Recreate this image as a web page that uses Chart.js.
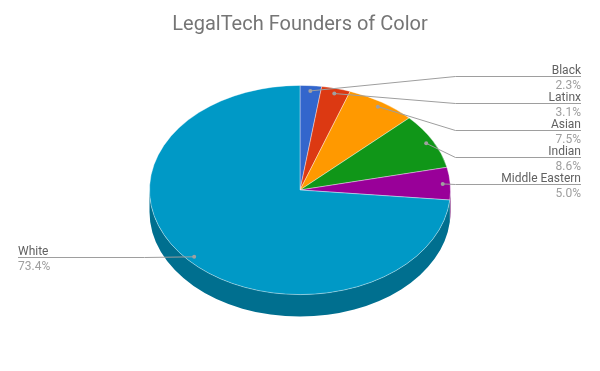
<!DOCTYPE html>
<html>
<head>
<meta charset="utf-8">
<script src="https://cdn.jsdelivr.net/npm/chart.js@4"></script>
<style>
  body { margin: 0; background: #fff; }
  #wrap { width: 600px; height: 371px; position: relative; }
</style>
</head>
<body>
<div id="wrap"><canvas id="grafico"></canvas></div>
<script>
const categorias = ['Black', 'Latinx', 'Asian', 'Indian', 'Middle Eastern', 'White'];
const percentuais = [2.3, 3.1, 7.5, 8.6, 5.0, 73.4];
const rotulosPct = ['2.3%', '3.1%', '7.5%', '8.6%', '5.0%', '73.4%'];

const coresTopo = ['#3366cc', '#dc3912', '#ff9900', '#109618', '#990099', '#0099c6'];
const coresLado = ['#244a94', '#9e280c', '#b86e00', '#0b6b11', '#6b006b', '#006f8f'];

const INCLINACAO = 0.695;   // ellipse squash of the top face
const PROFUNDIDADE = 22;    // thickness of the 3d side

function geometria(chart) {
  const arcos = chart.getDatasetMeta(0).data;
  const p = arcos[0].getProps(['x', 'y', 'outerRadius'], true);
  return { arcos, cx: p.x, cy: p.y, r: p.outerRadius };
}

const pizza3d = {
  id: 'pizza3d',
  beforeDatasetsDraw(chart) {
    const ctx = chart.ctx;
    const { arcos, cx, cy, r } = geometria(chart);
    const ry = r * INCLINACAO;
    // side walls, only the front half is visible
    arcos.forEach((arco, i) => {
      const { startAngle, endAngle } = arco.getProps(['startAngle', 'endAngle'], true);
      const a0 = Math.max(startAngle, 0), a1 = Math.min(endAngle, Math.PI);
      if (a1 <= a0) return;
      ctx.save();
      ctx.beginPath();
      ctx.ellipse(cx, cy, r, ry, 0, a0, a1);
      ctx.ellipse(cx, cy + PROFUNDIDADE, r, ry, 0, a1, a0, true);
      ctx.closePath();
      ctx.fillStyle = coresLado[i];
      ctx.fill();
      ctx.restore();
    });
    // squash the top face drawn by the library
    ctx.save();
    ctx.translate(cx, cy);
    ctx.scale(1, INCLINACAO);
    ctx.translate(-cx, -cy);
  },
  afterDatasetsDraw(chart) {
    chart.ctx.restore();
  },
  afterDraw(chart) {
    const ctx = chart.ctx;
    const { arcos, cx, cy, r } = geometria(chart);
    const ry = r * INCLINACAO;
    const pontos = arcos.map((arco, i) => {
      const { startAngle, endAngle } = arco.getProps(['startAngle', 'endAngle'], true);
      const a = (startAngle + endAngle) / 2;
      return { i, x: cx + Math.cos(a) * r * 0.95, y: cy + Math.sin(a) * ry * 0.95 };
    });
    const direita = pontos.filter(p => p.x >= cx);
    const esquerda = pontos.filter(p => p.x < cx);
    const passo = 27;
    const ultimoY = direita.length ? direita[direita.length - 1].y : 0;
    direita.forEach((p, k) => { p.ly = ultimoY - passo * (direita.length - 1 - k); p.lado = 1; });
    esquerda.forEach(p => { p.ly = p.y; p.lado = -1; });

    ctx.save();
    ctx.lineWidth = 1;
    ctx.strokeStyle = '#9e9e9e';
    ctx.font = '12px Roboto';
    [...direita, ...esquerda].forEach(p => {
      const ly = Math.round(p.ly) + 0.5;
      const cotovelo = cx + p.lado * (r + 5);
      const fim = p.lado > 0 ? 581 : 18;
      ctx.beginPath();
      ctx.moveTo(p.x, p.y);
      if (Math.abs(p.y - p.ly) > 1) ctx.lineTo(cotovelo, ly);
      ctx.lineTo(cotovelo, ly);
      ctx.lineTo(fim, ly);
      ctx.stroke();
      ctx.beginPath();
      ctx.arc(p.x, p.y, 2, 0, Math.PI * 2);
      ctx.fillStyle = '#a0a0a0';
      ctx.fill();
      ctx.textAlign = p.lado > 0 ? 'right' : 'left';
      ctx.textBaseline = 'alphabetic';
      ctx.fillStyle = '#616161';
      ctx.fillText(categorias[p.i], fim, ly - 3);
      ctx.fillStyle = '#9e9e9e';
      ctx.fillText(rotulosPct[p.i], fim, ly + 12);
    });
    ctx.restore();
  }
};

new Chart(document.getElementById('grafico'), {
  type: 'pie',
  data: {
    labels: categorias,
    datasets: [{
      data: percentuais,
      backgroundColor: coresTopo,
      borderColor: 'rgba(255,255,255,0.45)',
      borderWidth: 1
    }]
  },
  options: {
    responsive: true,
    maintainAspectRatio: false,
    animation: false,
    events: [],
    layout: { padding: { top: 0, bottom: 30, left: 0, right: 0 } },
    plugins: {
      legend: { display: false },
      tooltip: { enabled: false },
      title: {
        display: true,
        text: 'LegalTech Founders of Color',
        color: '#757575',
        font: { family: 'Roboto', size: 20, weight: 'normal' },
        padding: { top: 13, bottom: 2 }
      }
    }
  },
  plugins: [pizza3d]
});
</script>
</body>
</html>
